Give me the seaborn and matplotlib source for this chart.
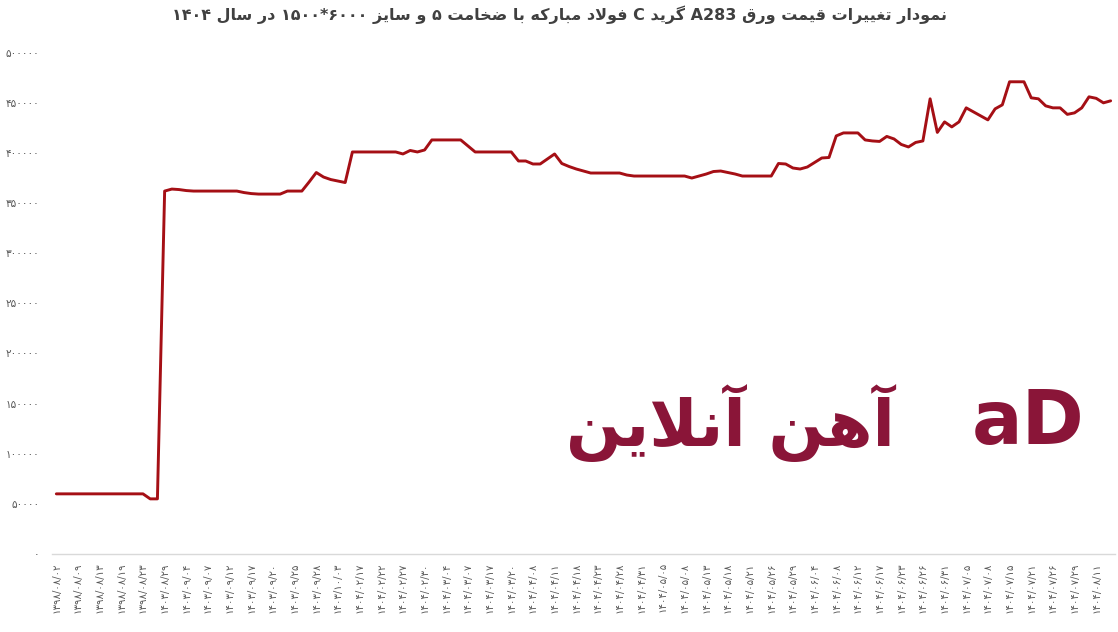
import re
import matplotlib
matplotlib.use("Agg")
import matplotlib.pyplot as plt
import seaborn as sns

# Price series (rial), one value per trading day
prices = [
    60000, 60000, 60000, 60000, 60000, 60000, 60000, 60000, 60000, 60000,
    60000, 60000, 60000, 55000, 55000, 362000, 364000, 363500, 362500, 362000,
    362000, 362000, 362000, 362000, 362000, 362000, 360500, 359500, 359000, 359000,
    359000, 359000, 362000, 362000, 362000, 371000, 380500, 376000, 373500, 372000,
    370500, 401000, 401000, 401000, 401000, 401000, 401000, 401000, 399000, 402500,
    401000, 403000, 413000, 413000, 413000, 413000, 413000, 407000, 401000, 401000,
    401000, 401000, 401000, 401000, 392000, 392000, 389000, 389000, 394000, 399000,
    389500, 386500, 384000, 382000, 380000, 380000, 380000, 380000, 380000, 378000,
    377000, 377000, 377000, 377000, 377000, 377000, 377000, 377000, 375000, 377000,
    379000, 381500, 382000, 380500, 379000, 377000, 377000, 377000, 377000, 377000,
    389500, 389000, 385000, 384000, 386000, 390500, 395000, 395500, 417000, 420000,
    420000, 420000, 413000, 412000, 411500, 416500, 414000, 408500, 406000, 410500,
    412000, 454000, 420500, 431000, 426000, 431000, 445000, 441000, 437000, 433000,
    444000, 448000, 471000, 471000, 471000, 455000, 454000, 447000, 445000, 445000,
    438500, 440000, 445000, 456000, 454500, 450000, 452000,
]

# Date labels shown under every third point
date_labels = [
    "۱۳۹۸/۰۸/۰۲", "۱۳۹۸/۰۸/۰۹", "۱۳۹۸/۰۸/۱۳", "۱۳۹۸/۰۸/۱۹", "۱۳۹۸/۰۸/۲۳",
    "۱۴۰۳/۰۸/۲۹", "۱۴۰۳/۰۹/۰۴", "۱۴۰۳/۰۹/۰۷", "۱۴۰۳/۰۹/۱۲", "۱۴۰۳/۰۹/۱۷",
    "۱۴۰۳/۰۹/۲۰", "۱۴۰۳/۰۹/۲۵", "۱۴۰۳/۰۹/۲۸", "۱۴۰۳/۱۰/۰۳", "۱۴۰۴/۰۲/۱۷",
    "۱۴۰۴/۰۲/۲۲", "۱۴۰۴/۰۲/۲۷", "۱۴۰۴/۰۲/۳۰", "۱۴۰۴/۰۳/۰۴", "۱۴۰۴/۰۳/۰۷",
    "۱۴۰۴/۰۳/۱۷", "۱۴۰۴/۰۳/۲۰", "۱۴۰۴/۰۴/۰۸", "۱۴۰۴/۰۴/۱۱", "۱۴۰۴/۰۴/۱۸",
    "۱۴۰۴/۰۴/۲۳", "۱۴۰۴/۰۴/۲۸", "۱۴۰۴/۰۴/۳۱", "۱۴۰۴/۰۵/۰۵", "۱۴۰۴/۰۵/۰۸",
    "۱۴۰۴/۰۵/۱۳", "۱۴۰۴/۰۵/۱۸", "۱۴۰۴/۰۵/۲۱", "۱۴۰۴/۰۵/۲۶", "۱۴۰۴/۰۵/۲۹",
    "۱۴۰۴/۰۶/۰۴", "۱۴۰۴/۰۶/۰۸", "۱۴۰۴/۰۶/۱۲", "۱۴۰۴/۰۶/۱۷", "۱۴۰۴/۰۶/۲۳",
    "۱۴۰۴/۰۶/۲۶", "۱۴۰۴/۰۶/۳۱", "۱۴۰۴/۰۷/۰۵", "۱۴۰۴/۰۷/۰۸", "۱۴۰۴/۰۷/۱۵",
    "۱۴۰۴/۰۷/۲۱", "۱۴۰۴/۰۷/۲۶", "۱۴۰۴/۰۷/۲۹", "۱۴۰۴/۰۸/۱۱",
]
label_step = 3

y_ticks = [0, 50000, 100000, 150000, 200000, 250000, 300000, 350000, 400000, 450000, 500000]

title = "نمودار تغییرات قیمت ورق A283 گرید C فولاد مبارکه با ضخامت ۵ و سایز ۶۰۰۰*۱۵۰۰ در سال ۱۴۰۴"
watermark = "آهن آنلاین"

LINE_COLOR = "#a50f15"
BRAND_COLOR = "#8a1538"
TEXT_GRAY = "#595959"

# matplotlib has no Arabic shaping / bidi, so do a small one by hand
FORMS = {
    "ا": ("\uFE8D", "\uFE8E", None, None),
    "آ": ("\uFE81", "\uFE82", None, None),
    "د": ("\uFEA9", "\uFEAA", None, None),
    "ر": ("\uFEAD", "\uFEAE", None, None),
    "ز": ("\uFEAF", "\uFEB0", None, None),
    "و": ("\uFEED", "\uFEEE", None, None),
    "ب": ("\uFE8F", "\uFE90", "\uFE91", "\uFE92"),
    "ت": ("\uFE95", "\uFE96", "\uFE97", "\uFE98"),
    "خ": ("\uFEA5", "\uFEA6", "\uFEA7", "\uFEA8"),
    "س": ("\uFEB1", "\uFEB2", "\uFEB3", "\uFEB4"),
    "ض": ("\uFEBD", "\uFEBE", "\uFEBF", "\uFEC0"),
    "غ": ("\uFECD", "\uFECE", "\uFECF", "\uFED0"),
    "ف": ("\uFED1", "\uFED2", "\uFED3", "\uFED4"),
    "ق": ("\uFED5", "\uFED6", "\uFED7", "\uFED8"),
    "ل": ("\uFEDD", "\uFEDE", "\uFEDF", "\uFEE0"),
    "م": ("\uFEE1", "\uFEE2", "\uFEE3", "\uFEE4"),
    "ن": ("\uFEE5", "\uFEE6", "\uFEE7", "\uFEE8"),
    "ه": ("\uFEE9", "\uFEEA", "\uFEEB", "\uFEEC"),
    "\u06CC": ("\uFBFC", "\uFBFD", "\uFBFE", "\uFBFF"),
    "\u064A": ("\uFEF1", "\uFEF2", "\uFEF3", "\uFEF4"),
    "\u06A9": ("\uFB8E", "\uFB8F", "\uFB90", "\uFB91"),
    "\u0643": ("\uFED9", "\uFEDA", "\uFEDB", "\uFEDC"),
    "گ": ("\uFB92", "\uFB93", "\uFB94", "\uFB95"),
}
LAM_ALEF = {"ا": ("\uFEFB", "\uFEFC"), "آ": ("\uFEF5", "\uFEF6")}
LTR_RUN = r"[A-Za-z0-9\u06F0-\u06F9]"


def shape_fa(text):
    out = []
    i = 0
    n = len(text)
    while i < n:
        c = text[i]
        if c not in FORMS:
            out.append(c)
            i += 1
            continue
        prev = text[i - 1] if i > 0 else ""
        prev_joins = prev in FORMS and FORMS[prev][2] is not None
        if c == "ل" and i + 1 < n and text[i + 1] in LAM_ALEF:
            iso, fin = LAM_ALEF[text[i + 1]]
            out.append(fin if prev_joins else iso)
            i += 2
            continue
        nxt = text[i + 1] if i + 1 < n else ""
        next_joins = nxt in FORMS and FORMS[c][2] is not None
        iso, fin, ini, med = FORMS[c]
        if prev_joins and next_joins:
            out.append(med)
        elif prev_joins:
            out.append(fin)
        elif next_joins:
            out.append(ini)
        else:
            out.append(iso)
        i += 1
    return "".join(out)


def visual(text):
    shaped = shape_fa(text)
    runs = re.findall(LTR_RUN + "+|[^A-Za-z0-9\u06F0-\u06F9]+", shaped)
    return "".join(r if re.match(LTR_RUN, r) else r[::-1] for r in reversed(runs))


def fa_digits(value):
    return str(value).translate(str.maketrans("0123456789", "۰۱۲۳۴۵۶۷۸۹"))


sns.set_theme(style="white")
plt.rcParams["font.family"] = ["DejaVu Sans"]

fig = plt.figure(figsize=(11.18, 6.32), dpi=100)
ax = fig.add_axes([0.0465, 0.1234, 0.9508, 0.7932])

x = list(range(len(prices)))
sns.lineplot(x=x, y=prices, ax=ax, color=LINE_COLOR, linewidth=2.1)

ax.set_xlim(-0.6, len(prices) - 0.4)
ax.set_ylim(0, 500000)
ax.set_yticks(y_ticks)
ax.set_yticklabels([fa_digits(v) for v in y_ticks], fontsize=7.6, color=TEXT_GRAY)
ax.set_xticks(list(range(0, len(date_labels) * label_step, label_step)))
ax.set_xticklabels(date_labels, rotation=90, fontsize=7.3, color=TEXT_GRAY)
ax.tick_params(length=0, pad=6)
ax.tick_params(axis="y", pad=9)
ax.grid(False)
for side in ["left", "top", "right"]:
    ax.spines[side].set_visible(False)
ax.spines["bottom"].set_color("#d9d9d9")
ax.spines["bottom"].set_linewidth(1)
ax.set_xlabel("")
ax.set_ylabel("")

fig.text(0.5, 0.976, visual(title), ha="center", va="center",
         fontsize=11.5, fontweight="bold", color="#404040")

# brand watermark
fig.text(0.653, 0.33, visual(watermark), ha="center", va="center",
         fontsize=47, fontweight="bold", color=BRAND_COLOR)
fig.text(0.92, 0.33, "aD", ha="center", va="center",
         fontsize=54, fontweight="bold", color=BRAND_COLOR)

fig.savefig("out.png", dpi=100)
